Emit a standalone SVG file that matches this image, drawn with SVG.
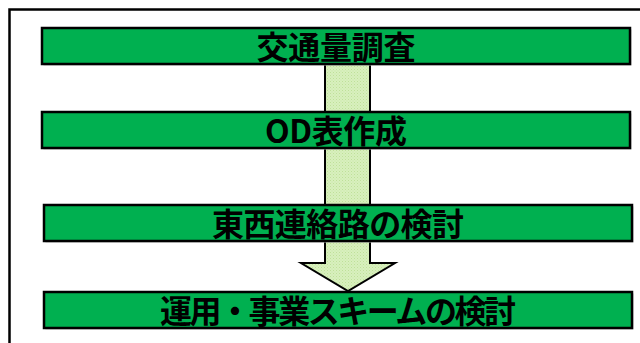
<svg xmlns="http://www.w3.org/2000/svg" width="640" height="343" viewBox="0 0 640 343">
  <style>
    .bar { fill: #00b050; stroke: #000; stroke-width: 2.5; }
    .shadow { fill: #c8c8c8; }
    .lbl { font-family: "Noto Sans CJK JP", "Noto Sans CJK SC", sans-serif; font-weight: 700; font-size: 32px; fill: #000; text-anchor: middle; }
  </style>
  <defs>
    <pattern id="dots" width="3" height="3" patternUnits="userSpaceOnUse">
      <rect width="3" height="3" fill="#d8f0bd"/>
      <rect width="1" height="1" fill="#bfe09a"/>
      <rect x="1.5" y="1.5" width="1" height="1" fill="#c9e6a8"/>
    </pattern>
  </defs>
  <rect width="640" height="343" fill="#fff"/>
  <rect id="frame" x="9.5" y="9.5" width="640" height="345" fill="none" stroke="#000" stroke-width="2.5"/>
  <g id="connectors">
    <path d="M325,50 L370,50 L370,263 L395,263 L348,291 L301,263 L325,263 Z" fill="url(#dots)" stroke="#000" stroke-width="2" stroke-linejoin="miter"/>
  </g>
  <g id="node1">
    <rect class="shadow" x="43.5" y="29.5" width="588" height="36"/>
    <rect class="bar" x="42" y="28" width="588" height="36"/>
    <text class="lbl" x="336" y="59" textLength="159" lengthAdjust="spacing">交通量調査</text>
  </g>
  <g id="node2">
    <rect class="shadow" x="43.5" y="113.5" width="588" height="36"/>
    <rect class="bar" x="42" y="112" width="588" height="36"/>
    <text class="lbl" x="336" y="143" textLength="142" lengthAdjust="spacing">OD表作成</text>
  </g>
  <g id="node3">
    <rect class="shadow" x="45.5" y="206.5" width="588" height="36"/>
    <rect class="bar" x="44" y="205" width="588" height="36"/>
    <text class="lbl" x="338" y="236" textLength="252" lengthAdjust="spacing">東西連絡路の検討</text>
  </g>
  <g id="node4">
    <rect class="shadow" x="45.5" y="293.5" width="588" height="36"/>
    <rect class="bar" x="44" y="292" width="588" height="36"/>
    <text class="lbl" x="338" y="323" textLength="356" lengthAdjust="spacing">運用・事業スキームの検討</text>
  </g>
</svg>
